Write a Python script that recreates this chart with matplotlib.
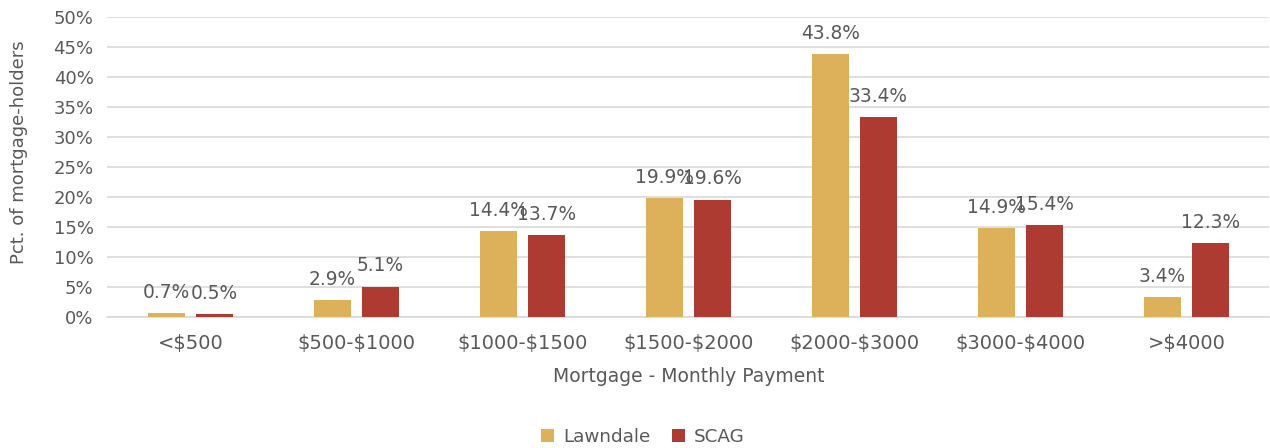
import numpy as np
import matplotlib
matplotlib.use("Agg")
import matplotlib.pyplot as plt

# chart data
categories = ["<\\$500", "\\$500-\\$1000", "\\$1000-\\$1500", "\\$1500-\\$2000",
              "\\$2000-\\$3000", "\\$3000-\\$4000", ">\\$4000"]
lawndale = [0.7, 2.9, 14.4, 19.9, 43.8, 14.9, 3.4]
scag = [0.5, 5.1, 13.7, 19.6, 33.4, 15.4, 12.3]
yticks = [0, 5, 10, 15, 20, 25, 30, 35, 40, 45, 50]

gold = "#DDB05A"
red = "#AE3B31"
txt = "#595959"

plt.rcParams['font.family'] = ['DejaVu Sans']

fig = plt.figure(figsize=(12.7, 4.48), dpi=100)
ax = fig.add_axes([0.0846, 0.292, 0.915, 0.670])

x = np.arange(len(categories))
w = 0.225
off = 0.145
b1 = ax.bar(x - off, lawndale, w, color=gold, label="Lawndale", zorder=3)
b2 = ax.bar(x + off, scag, w, color=red, label="SCAG", zorder=3)

# value labels above each bar (they touch in the original too)
for bars, vals in ((b1, lawndale), (b2, scag)):
    for r, v in zip(bars, vals):
        ax.annotate(f"{v:.1f}%", (r.get_x() + r.get_width() / 2, r.get_height()),
                    xytext=(0, 8), textcoords="offset points",
                    ha="center", va="bottom", fontsize=13.4, color=txt)

ax.set_xlim(-0.5, len(categories) - 0.5)
ax.set_ylim(0, 50)
ax.set_yticks(yticks)
ax.set_yticklabels([f"{t}%" for t in yticks])
ax.set_xticks(x)
ax.set_xticklabels(categories)
ax.tick_params(axis="both", length=0, colors=txt)
ax.tick_params(axis="y", labelsize=13, pad=10)
ax.tick_params(axis="x", labelsize=14, pad=12)
ax.grid(axis="y", color="#D9D9D9", linewidth=1.2, zorder=0)
for s in ("top", "right", "left"):
    ax.spines[s].set_visible(False)
ax.spines["bottom"].set_color("#D9D9D9")
ax.spines["bottom"].set_linewidth(1.2)

ax.set_xlabel("Mortgage - Monthly Payment", fontsize=13.5, color=txt)
ax.xaxis.set_label_coords(0.5, -0.165)
ax.set_ylabel("Pct. of mortgage-holders", fontsize=13, color=txt)
ax.yaxis.set_label_coords(-0.068, 0.55)

fig.legend(loc="center", bbox_to_anchor=(0.5 + 8 / 1270, 1 - 437 / 448), ncol=2,
           frameon=False, fontsize=13.2, labelcolor=txt, handlelength=0.7,
           handleheight=0.7, handletextpad=0.5, columnspacing=1.2)

fig.savefig("out.png", dpi=100)
